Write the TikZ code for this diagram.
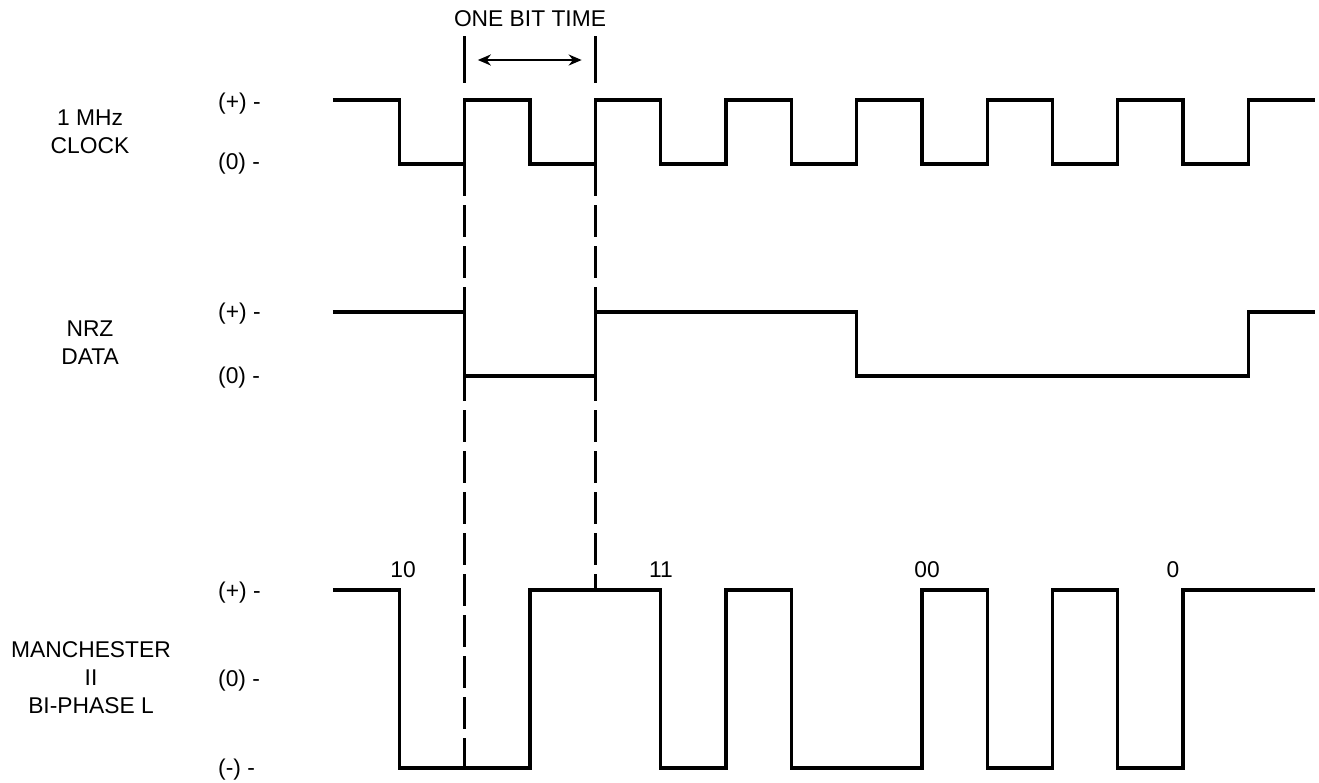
\documentclass[tikz,border=0pt]{standalone}
\usepackage{fontspec}
\setmainfont{Liberation Sans}
\usetikzlibrary{arrows.meta}
\begin{document}
\begin{tikzpicture}[x=1pt,y=-1pt,
  wave/.style={line width=3.3pt,line join=miter},
  bitline/.style={line width=3.1pt,dash pattern=on 32pt off 9pt},
  tickline/.style={line width=3.1pt},
  txt/.style={inner sep=0pt,font=\fontsize{22.8}{27}\selectfont},
  lvl/.style={txt,anchor=base west},
  ttl/.style={txt,anchor=base}]
\useasboundingbox[fill=white] (0,0) rectangle (1319,782);

% titles
\node[ttl] (clk1) at (90,125.5) {1 MHz};
\node[ttl] (clk2) at (90,153) {CLOCK};
\node[ttl] (nrz1) at (90,336.5) {NRZ};
\node[ttl] (nrz2) at (90,364) {DATA};
\node[ttl] (man1) at (91,657.5) {MANCHESTER};
\node[ttl] (man2) at (91,685.5) {II};
\node[ttl] (man3) at (91,713) {BI-PHASE L};

% level labels
\node[lvl] (c+) at (218,109) {(+) -};
\node[lvl] (c0) at (218,169.5) {(0) -};
\node[lvl] (n+) at (218,319.5) {(+) -};
\node[lvl] (n0) at (218,383) {(0) -};
\node[lvl] (m+) at (218,598.5) {(+) -};
\node[lvl] (m0) at (218,686) {(0) -};
\node[lvl] (m-) at (218,775) {(-) -};

% bit labels
\node[ttl] (b10) at (403,577) {10};
\node[ttl] (b11) at (661,577) {11};
\node[ttl] (b00) at (927,577) {00};
\node[ttl] (b0) at (1173,577) {0};
\node[ttl] (obt) at (530,26.7) {ONE BIT TIME};

\begin{scope}[x=65.3pt,xshift=399.5pt]
  % clock
  \draw[wave] (-1.02,100)
    \foreach \k in {0,2,...,12} { -- (\k,100) -- (\k,164) -- (\k+1,164) -- (\k+1,100) }
    -- (14.02,100);
  % NRZ data
  \draw[wave] (-1.02,312) -- (1,312) -- (1,376) -- (3,376) -- (3,312) -- (7,312)
    -- (7,376) -- (13,376) -- (13,312) -- (14.02,312);
  % Manchester
  \draw[wave] (-1.02,590) -- (0,590) -- (0,768) -- (2,768) -- (2,590) -- (4,590)
    -- (4,768) -- (5,768) -- (5,590) -- (6,590) -- (6,768) -- (8,768) -- (8,590)
    -- (9,590) -- (9,768) -- (10,768) -- (10,590) -- (11,590) -- (11,768)
    -- (12,768) -- (12,590) -- (14.02,590);

  % bit time markers
  \coordinate (t1a) at (1,36);
  \coordinate (t1b) at (1,83);
  \coordinate (t2a) at (3,36);
  \coordinate (t2b) at (3,83);
  \coordinate (arL) at (1.2,60);
  \coordinate (arR) at (2.79,60);
  \coordinate (d1a) at (1,164);
  \coordinate (d1b) at (1,768);
  \coordinate (d2a) at (3,164);
  \coordinate (d2b) at (3,590);
  \draw[tickline] (t1a) -- (t1b);
  \draw[tickline] (t2a) -- (t2b);
  \draw[line width=2.9pt,{Stealth[length=13pt,width=11pt]}-{Stealth[length=13pt,width=11pt]}] (arL) -- (arR);
  \draw[bitline] (d1a) -- (d1b);
  \draw[bitline] (d2a) -- (d2b);
\end{scope}
\end{tikzpicture}
\end{document}
